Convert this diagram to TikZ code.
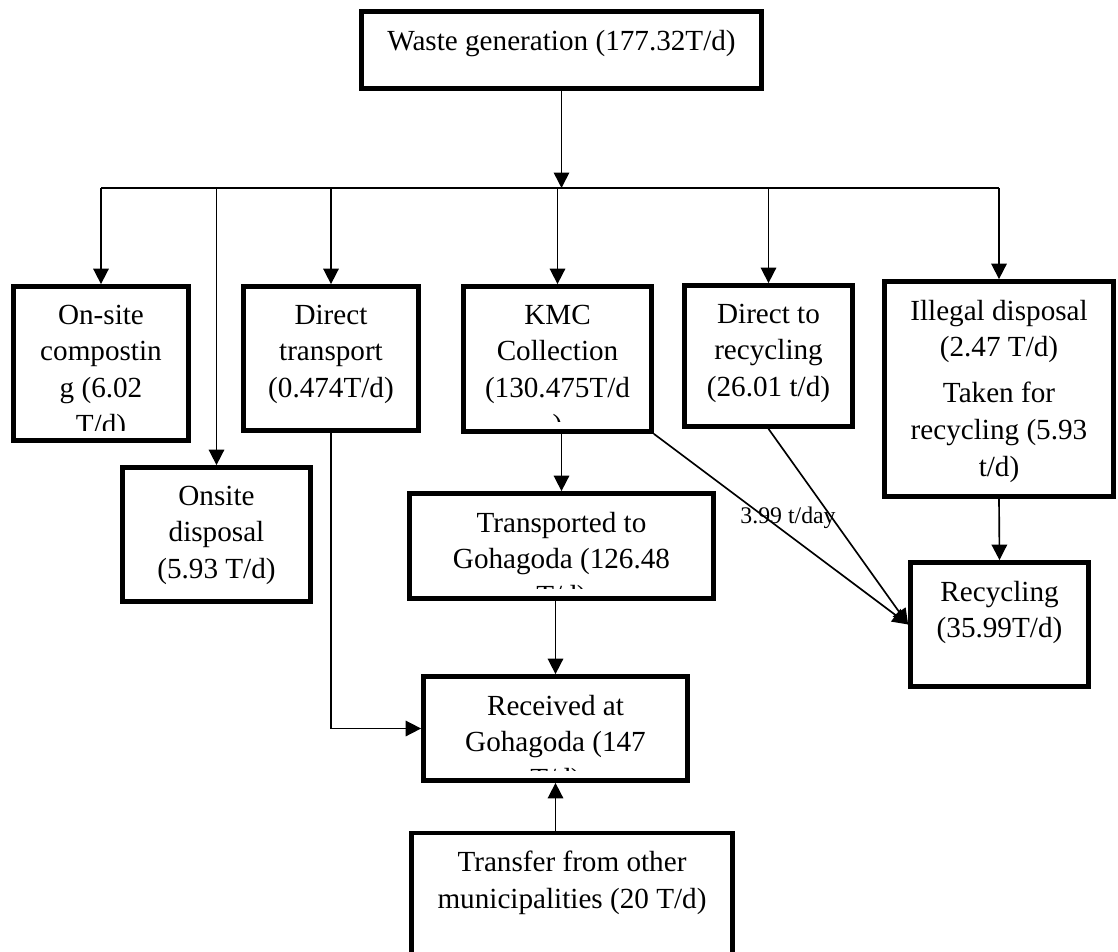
\documentclass[tikz,border=0pt]{standalone}
\usepackage{fontspec}
\setmainfont{Liberation Serif}
\usetikzlibrary{arrows.meta}
\tikzset{
	box/.style 2 args={draw, line width=2pt, inner sep=0pt, minimum width=#1*0.42pt, minimum height=#2*0.42pt},
	txt/.style={anchor=north, yshift=-8.5pt, align=center, inner sep=0pt, font=\fontsize{12.25pt}{15.4pt}\selectfont, execute at begin node=\strut},
	ln/.style={line width=0.7pt},
	arr/.style={line width=0.7pt, -{Triangle[length=6.5pt,width=6.5pt]}}
}

\begin{document}
\begin{tikzpicture}[x=0.42pt, y=-0.42pt]
		%%%%% START %%%%%
		\useasboundingbox (0, 0) rectangle (1118, 952);
		\fill[white] (0, 0) rectangle (1118, 952);
		\clip (0, 0) rectangle (1118, 952);
		
		\node[box={400}{77}] (waste) at (561.5, 50) {};
		\node[txt, yshift=2pt] (waste-t) at (waste.north) {Waste generation (177.32T/d)};
		
		\node[box={175}{154}] (compost) at (101, 363.5) {};
		\node[box={188}{134}] (onsite) at (216.5, 534.5) {};
		\node[box={175}{144}] (dtrans) at (331, 358.5) {};
		\node[box={188}{145}] (kmc) at (557.5, 359) {};
		\node[box={168}{141}] (dtr) at (768.5, 356) {};
		\node[box={229}{215}] (illegal) at (999, 389) {};
		\node[box={178}{124}] (recyc) at (999.5, 624.5) {};
		\node[box={304}{105}] (trans) at (561.5, 546) {};
		\node[box={264}{104}] (recv) at (555.5, 728.5) {};
		\node[box={321}{142}] (transfer) at (572, 904) {};
		
		\begin{scope}
			\clip (compost.north west) rectangle ([yshift=5pt]compost.south east);
			\node[txt] (compost-t) at (compost.north) {On-site\\compostin\\g (6.02\\T/d)};
		\end{scope}
		\node[txt] (onsite-t) at (onsite.north) {Onsite\\disposal\\(5.93 T/d)};
		\node[txt] (dtrans-t) at (dtrans.north) {Direct\\transport\\(0.474T/d)};
		\begin{scope}
			\clip (kmc.north west) rectangle ([yshift=5pt]kmc.south east);
			\node[txt] (kmc-t) at (kmc.north) {KMC\\Collection\\(130.475T/d\\)};
		\end{scope}
		\node[txt] (dtr-t) at (dtr.north) {Direct to\\recycling\\(26.01 t/d)};
		\node[txt] (illegal-t) at (illegal.north) {Illegal disposal\\(2.47 T/d)\\[4pt]Taken for\\recycling (5.93\\t/d)};
		\node[txt] (recyc-t) at (recyc.north) {Recycling\\(35.99T/d)};
		\begin{scope}
			\clip (trans.north west) rectangle ([yshift=5pt]trans.south east);
			\node[txt] (trans-t) at (trans.north) {Transported to\\Gohagoda (126.48\\T/d)};
		\end{scope}
		\begin{scope}
			\clip (recv.north west) rectangle ([yshift=5pt]recv.south east);
			\node[txt] (recv-t) at (recv.north) {Received at\\Gohagoda (147\\T/d)};
		\end{scope}
		\node[txt] (transfer-t) at (transfer.north) {Transfer from other\\municipalities (20 T/d)};
		
		\coordinate (bus) at (561.5, 188);
		\draw[arr] (waste.south) -- (bus);
		\draw[ln] (compost.north |- bus) -- (illegal.north |- bus);
		\foreach \n in {compost, onsite, dtrans, kmc, dtr, illegal}
			\draw[arr] (\n.north |- bus) -- (\n.north);
		
		\draw[arr] (trans.north |- kmc.south) -- (trans.north);
		\draw[arr] (recv.north |- trans.south) -- (recv.north);
		\draw[arr] (recv.south |- transfer.north) -- (recv.south);
		\draw[arr] (dtrans.south) |- (recv.west);
		\draw[arr] (kmc.south east) -- (recyc.west);
		\draw[arr] (dtr.south) -- (recyc.west);
		\draw[arr] (illegal.south) -- (recyc.north);
		\node[anchor=base, inner sep=0pt, font=\fontsize{10pt}{12pt}\selectfont] (rate) at (788, 523) {3.99 t/day};
		
		%%%%% END %%%%%
\end{tikzpicture}
\end{document}
